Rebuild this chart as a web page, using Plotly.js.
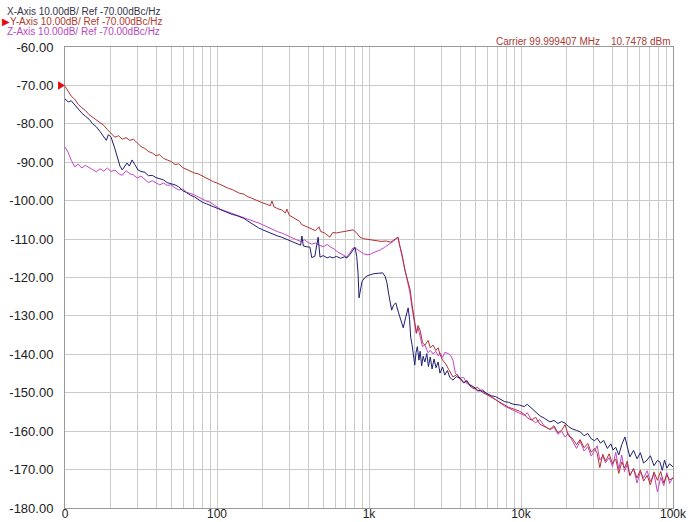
<!DOCTYPE html>
<html>
<head>
<meta charset="utf-8">
<script src="https://cdn.plot.ly/plotly-3.0.1.min.js"></script>
<style>
html,body{margin:0;padding:0;background:#fff;}
#chart{width:696px;height:522px;}
</style>
</head>
<body>
<div id="chart"></div>
<script>
// ---- Data ----
const freqY = [10,10.5,11,11.6,12.2,12.9,13.6,14.4,15.2,16.1,17,18,19,20.1,21.3,22.5,23.8,25.2,26.7,28.2,29.9,31.6,33.5,35.4,37.5,39.7,42,44.5,47,50,53,56,59.5,63,67,71,75,80,85,90,95,100,106,112,119,126,133,141,150,158,168,178,188,200,211,224,230,237,251,266,282,288,299,316,335,350,360,376,398,420,445,469,480,510,553,577,610,650,690,740,785,830,871,920,1016,1100,1200,1300,1380,1450,1550,1600,1650,1720,1800,1860,1920,2000,2050,2100,2170,2250,2330,2450,2530,2640,2750,2850,2930,3050,3200,3350,3570,3800,3980,4200,4400,4620,4900,5200,5600,5970,6400,6800,7280,7800,8300,8900,9770,10500,11000,11700,12500,13300,14200,15500,16500,17500,18500,19500,20500,21700,23200,24500,26000,27500,29000,30500,31700,33000,34500,36000,38000,40000,42000,44000,46000,48000,50000,52000,55000,58000,61000,64000,67600,71000,75000,79000,83000,87000,91000,95000,100000];
const valY = [-70.2,-71.5,-72.8,-73.6,-74.9,-75.8,-76.5,-77.6,-78.3,-78.9,-79.6,-80.4,-81.5,-82.6,-83.5,-83.1,-84.0,-83.6,-84.3,-84.0,-85.0,-85.9,-86.4,-87.2,-87.6,-88.3,-88.0,-89.0,-89.4,-89.8,-90.6,-90.4,-91.4,-91.9,-92.3,-92.8,-93.0,-93.6,-94.2,-94.6,-95.1,-95.4,-95.9,-96.2,-96.8,-97.1,-97.6,-98.1,-98.3,-98.9,-99.3,-99.8,-100.2,-100.6,-100.9,-101.3,-100.1,-101.6,-102.1,-102.4,-103.2,-102.2,-103.8,-104.3,-105.0,-105.4,-106.2,-106.5,-106.9,-107.2,-107.8,-106.8,-108.0,-108.4,-109.5,-108.3,-108.4,-108.2,-108.0,-107.9,-107.6,-108.4,-109.5,-109.9,-110.2,-110.4,-110.6,-110.5,-110.8,-110.3,-109.5,-112.0,-114.0,-118.0,-121.0,-123.0,-127.0,-131.0,-134.4,-132.5,-133.7,-137.0,-137.6,-136.4,-138.3,-137.6,-139.0,-138.3,-140.0,-141.5,-142.5,-144.0,-145.9,-145.2,-146.5,-147.5,-146.8,-148.3,-149.0,-148.6,-150.0,-150.5,-151.2,-152.0,-152.7,-153.3,-153.8,-154.2,-154.8,-155.6,-156.5,-157.1,-156.4,-158.2,-158.8,-159.5,-158.6,-160.4,-159.8,-158.3,-161.2,-161.8,-163.5,-162.2,-164.3,-163.2,-165.5,-164.5,-165.8,-169.5,-166.0,-167.8,-165.9,-168.5,-167.2,-171.0,-168.0,-169.6,-167.8,-171.5,-169.8,-172.2,-170.1,-173.0,-171.5,-174.0,-170.6,-172.8,-170.5,-173.5,-171.3,-172.7,-172.2];

const freqZ = [10,10.5,11,11.6,12.2,12.9,13.6,14.4,15.2,16.1,17,18,19,20.1,21.3,22.5,23.8,25.2,26.7,28.2,29.9,31.6,33.5,35.4,37.5,39.7,42,44.5,47,50,53,56,59.5,63,67,71,75,80,85,90,95,100,106,112,119,126,133,141,150,158,168,178,188,200,211,224,237,251,266,282,299,316,335,355,376,398,420,445,470,500,530,560,590,620,650,690,716,750,785,830,871,920,970,1016,1060,1120,1190,1260,1330,1400,1480,1550,1600,1650,1720,1800,1860,1920,2000,2050,2100,2170,2250,2330,2450,2530,2640,2750,2850,2930,3050,3150,3330,3450,3570,3700,3850,3980,4200,4400,4620,4900,5200,5600,5970,6400,6800,7280,7800,8300,8900,9770,10500,11000,11700,12500,13300,14200,15500,16500,17500,18500,19500,20500,21700,23200,24500,26000,27500,29000,30500,31700,33000,34500,36000,38000,40000,42000,44000,46000,48000,50000,52000,55000,58000,61000,64000,67600,71000,75000,79000,83000,87000,91000,95000,100000];
const valZ = [-86.0,-87.5,-89.5,-91.2,-90.5,-91.5,-90.8,-91.3,-91.9,-92.5,-91.7,-92.3,-91.5,-92.4,-92.0,-93.0,-93.4,-92.2,-93.0,-93.3,-94.1,-93.6,-94.5,-95.3,-94.8,-95.4,-95.9,-95.4,-96.0,-95.9,-96.7,-97.2,-97.0,-97.8,-98.1,-98.5,-99.0,-99.6,-100.1,-100.4,-101.0,-101.5,-102.3,-102.6,-103.0,-103.3,-103.6,-104.0,-104.4,-104.7,-105.1,-105.5,-105.8,-106.3,-106.9,-107.2,-107.7,-108.1,-108.4,-108.9,-109.2,-109.7,-110.2,-110.6,-110.2,-110.9,-111.3,-111.0,-111.6,-112.0,-111.4,-112.1,-112.6,-113.3,-113.8,-114.3,-114.7,-113.5,-112.3,-112.6,-113.2,-113.8,-114.1,-114.0,-113.6,-113.3,-112.8,-112.2,-111.6,-111.0,-110.3,-109.5,-112.0,-114.5,-118.5,-121.5,-124.0,-128.0,-132.0,-134.6,-133.0,-135.5,-138.0,-137.5,-139.6,-139.0,-139.9,-139.2,-140.4,-139.6,-140.8,-139.5,-139.8,-140.3,-141.6,-144.9,-145.6,-146.2,-146.0,-147.6,-147.9,-148.8,-149.6,-149.2,-150.4,-151.0,-151.8,-152.5,-153.5,-154.0,-154.6,-155.2,-155.9,-155.2,-157.0,-157.8,-157.0,-158.6,-159.6,-159.0,-160.8,-160.0,-161.5,-160.6,-162.5,-164.5,-162.6,-165.2,-164.0,-166.5,-165.1,-163.8,-167.5,-166.5,-168.2,-166.9,-169.2,-165.5,-169.9,-166.2,-170.5,-168.6,-171.6,-169.7,-173.5,-170.6,-172.2,-170.3,-173.1,-171.2,-175.8,-172.0,-174.2,-170.8,-173.6,-172.0];

const freqX = [10,10.5,11,11.6,12.2,12.9,13.6,14.4,15.2,16.1,17,18,18.7,19.3,20.1,21.3,22,23,23.8,24.7,25.6,26.5,27.6,28.8,30.2,31.6,33.5,35.4,37.5,39.7,42,44.5,47,50,53,56,59.5,63,67,71,75,80,85,90,95,100,106,112,119,126,133,141,150,158,168,178,188,200,211,224,237,251,266,282,299,320,340,355,362,370,390,409,420,440,463,476,500,530,553,580,610,650,690,716,750,785,809,830,847,860,880,900,935,970,1016,1080,1150,1230,1280,1312,1350,1410,1450,1500,1560,1620,1680,1740,1810,1850,1880,1920,1960,2000,2040,2080,2130,2170,2220,2270,2330,2400,2460,2530,2600,2680,2760,2850,2930,3050,3150,3280,3400,3570,3750,3980,4200,4400,4620,4900,5200,5600,5970,6400,6800,7280,7800,8300,8900,9770,10500,11000,11700,12500,13300,14200,15500,16500,17500,18500,19500,20500,21700,23200,24600,26000,27500,29000,30500,31700,33300,35000,37000,39000,40300,42000,44000,46000,48300,50000,52000,55000,58000,61000,64000,67600,71000,75000,79000,82000,85000,88000,91000,95000,100000];
const valX = [-73.5,-74.3,-74.0,-75.1,-76.0,-77.2,-78.0,-78.8,-80.0,-80.8,-82.0,-83.6,-84.3,-82.8,-83.5,-86.5,-88.6,-91.0,-92.0,-91.2,-90.2,-91.0,-89.4,-90.6,-92.0,-92.4,-92.6,-93.5,-93.4,-94.0,-94.3,-94.6,-95.3,-95.6,-95.9,-96.4,-97.4,-97.9,-98.6,-99.0,-99.6,-100.4,-100.8,-101.2,-101.6,-101.9,-102.4,-102.9,-103.3,-103.6,-103.8,-104.1,-104.6,-105.2,-105.9,-106.6,-107.1,-107.6,-108.0,-108.4,-108.8,-109.2,-109.5,-109.9,-110.3,-110.8,-111.2,-111.6,-109.2,-111.8,-112.0,-112.1,-114.8,-114.5,-109.5,-114.7,-114.3,-114.9,-114.6,-114.9,-114.5,-115.0,-114.6,-114.9,-114.0,-113.0,-112.1,-114.5,-118.8,-125.3,-123.5,-121.0,-120.1,-119.6,-119.3,-119.0,-118.9,-118.8,-119.8,-121.4,-124.5,-128.5,-127.2,-126.6,-129.0,-131.3,-133.1,-130.5,-127.9,-131.0,-135.5,-137.5,-140.0,-142.8,-139.5,-138.0,-141.5,-139.2,-143.0,-140.5,-142.0,-139.8,-143.2,-140.7,-143.8,-141.2,-143.5,-142.0,-144.9,-143.3,-145.4,-144.2,-146.0,-146.7,-145.8,-146.2,-147.3,-147.0,-148.0,-148.5,-149.4,-149.6,-150.2,-150.8,-151.0,-151.7,-152.3,-152.5,-153.0,-153.2,-153.6,-153.0,-154.0,-155.2,-156.0,-156.6,-157.6,-157.2,-158.0,-157.5,-157.9,-158.8,-159.4,-159.8,-160.2,-161.2,-160.6,-162.0,-162.5,-161.8,-163.1,-162.4,-164.5,-163.3,-164.9,-164.2,-166.2,-163.5,-161.5,-164.0,-166.7,-165.0,-167.2,-165.6,-168.3,-167.5,-166.4,-169.0,-167.6,-168.0,-170.2,-167.5,-169.6,-168.5,-169.3];

const yTickVals = [-60,-70,-80,-90,-100,-110,-120,-130,-140,-150,-160,-170,-180];
const yTickText = ["-60.00","-70.00","-80.00","-90.00","-100.00","-110.00","-120.00","-130.00","-140.00","-150.00","-160.00","-170.00","-180.00"];
const xDecades = [10,100,1000,10000,100000];
const xDecadeText = ["0","100","1k","10k","100k"];

// Build log grid tick positions (2..9 per decade) from decade list
const xTickVals = [], xTickText = [];
xDecades.forEach((d, i) => {
  xTickVals.push(d); xTickText.push(xDecadeText[i]);
  if (i < xDecades.length - 1) {
    for (let m = 2; m <= 9; m++) { xTickVals.push(d * m); xTickText.push(""); }
  }
});

const traces = [
  {x: freqZ, y: valZ, type: 'scatter', mode: 'lines', name: 'Z', line: {color: '#c445c8', width: 1}},
  {x: freqY, y: valY, type: 'scatter', mode: 'lines', name: 'Y', line: {color: '#b3312f', width: 1}},
  {x: freqX, y: valX, type: 'scatter', mode: 'lines', name: 'X', line: {color: '#1e1e72', width: 1}}
];

const FONT = 'Liberation Sans, Arial, sans-serif';
const layout = {
  width: 696, height: 522,
  margin: {l: 65, r: 23, t: 47, b: 14},
  paper_bgcolor: '#ffffff', plot_bgcolor: '#ffffff',
  showlegend: false,
  font: {family: FONT, size: 13, color: '#222'},
  xaxis: {
    type: 'log', range: [1, 5],
    tickmode: 'array', tickvals: xTickVals, ticktext: xTickText,
    showgrid: true, gridcolor: '#cacaca', gridwidth: 1,
    showline: true, linecolor: '#9a9a9a', linewidth: 1, mirror: true,
    ticks: '', zeroline: false, ticklabelstandoff: -5,
    tickfont: {family: FONT, size: 12, color: '#222'}
  },
  yaxis: {
    range: [-180, -60],
    tickmode: 'array', tickvals: yTickVals, ticktext: yTickText,
    showgrid: true, gridcolor: '#cacaca', gridwidth: 1,
    showline: true, linecolor: '#9a9a9a', linewidth: 1, mirror: true,
    ticks: '', zeroline: false, ticklabelstandoff: 8,
    tickfont: {family: FONT, size: 13, color: '#222'}
  },
  shapes: [
    {type: 'path', xref: 'paper', yref: 'y', path: 'M -0.0115 -68.9 L 0 -70 L -0.0115 -71.1 Z',
     fillcolor: '#e01010', line: {width: 0}}
  ],
  annotations: [
    {xref: 'paper', yref: 'paper', x: -0.099, y: 1.078, xanchor: 'left', yanchor: 'middle', showarrow: false,
     text: 'X-Axis 10.00dB/ Ref -70.00dBc/Hz', font: {family: FONT, size: 10, color: '#33334a'}},
    {xref: 'paper', yref: 'paper', x: -0.107, y: 1.056, xanchor: 'left', yanchor: 'middle', showarrow: false,
     text: '<span style="color:#e01010">▶</span>Y-Axis 10.00dB/ Ref -70.00dBc/Hz', font: {family: FONT, size: 10, color: '#b03a30'}},
    {xref: 'paper', yref: 'paper', x: -0.099, y: 1.034, xanchor: 'left', yanchor: 'middle', showarrow: false,
     text: 'Z-Axis 10.00dB/ Ref -70.00dBc/Hz', font: {family: FONT, size: 10, color: '#b848c0'}},
    {xref: 'paper', yref: 'paper', x: 0.705, y: 1.012, xanchor: 'left', yanchor: 'middle', showarrow: false,
     text: 'Carrier 99.999407 MHz', font: {family: FONT, size: 10, color: '#a83a34'}},
    {xref: 'paper', yref: 'paper', x: 1.0, y: 1.012, xanchor: 'right', yanchor: 'middle', showarrow: false,
     text: '10.7478 dBm', font: {family: FONT, size: 10, color: '#a83a34'}}
  ]
};

Plotly.newPlot('chart', traces, layout, {staticPlot: true, displayModeBar: false});
</script>
</body>
</html>
